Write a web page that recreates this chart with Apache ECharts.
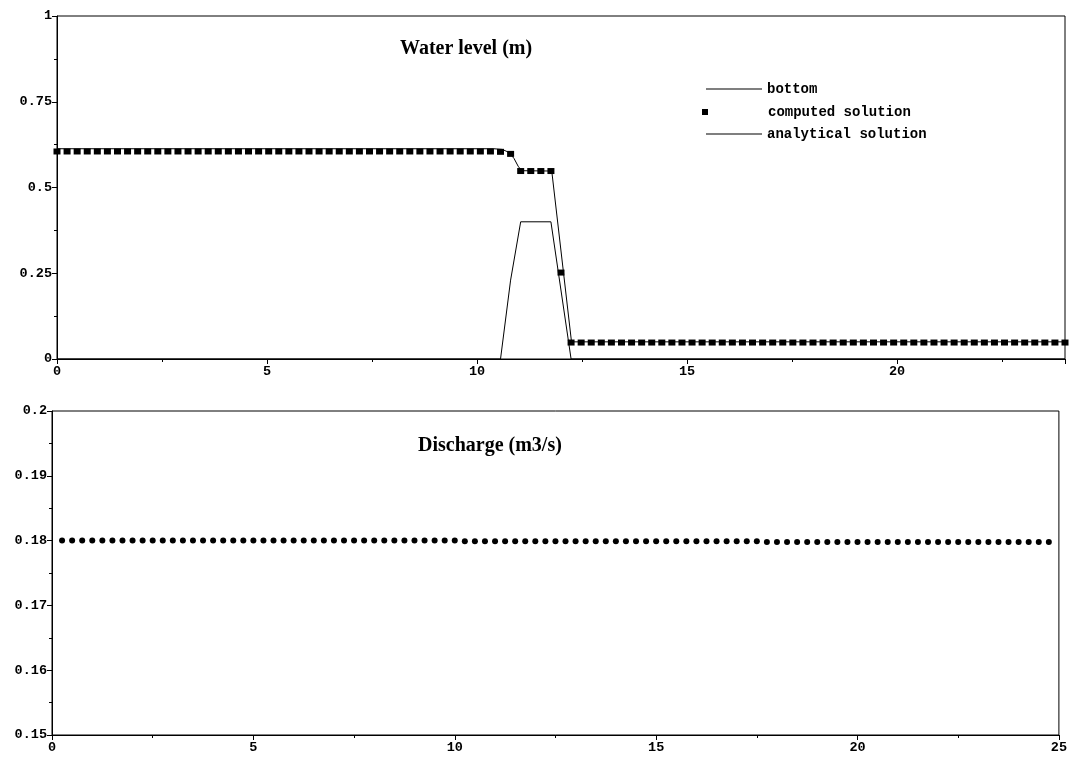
<!DOCTYPE html>
<html>
<head>
<meta charset="utf-8">
<script src="https://cdn.jsdelivr.net/npm/echarts@6/dist/echarts.min.js"></script>
<style>
  html, body { margin: 0; padding: 0; background: #fff; }
  #main { width: 1070px; height: 762px; }
</style>
</head>
<body>
<div id="main"></div>
<script>
// top panel: water level along the channel
var levelStep = 0.24;   // grid spacing of computed points (m)
var levelComputed = [
  0.605, 0.605, 0.605, 0.605, 0.605, 0.605, 0.605, 0.605, 0.605, 0.605,
  0.605, 0.605, 0.605, 0.605, 0.605, 0.605, 0.605, 0.605, 0.605, 0.605,
  0.605, 0.605, 0.605, 0.605, 0.605, 0.605, 0.605, 0.605, 0.605, 0.605,
  0.605, 0.605, 0.605, 0.605, 0.605, 0.605, 0.605, 0.605, 0.605, 0.605,
  0.605, 0.605, 0.605, 0.605, 0.604, 0.598, 0.548, 0.548, 0.548, 0.548,
  0.252, 0.048, 0.048, 0.048, 0.048, 0.048, 0.048, 0.048, 0.048, 0.048,
  0.048, 0.048, 0.048, 0.048, 0.048, 0.048, 0.048, 0.048, 0.048, 0.048,
  0.048, 0.048, 0.048, 0.048, 0.048, 0.048, 0.048, 0.048, 0.048, 0.048,
  0.048, 0.048, 0.048, 0.048, 0.048, 0.048, 0.048, 0.048, 0.048, 0.048,
  0.048, 0.048, 0.048, 0.048, 0.048, 0.048, 0.048, 0.048, 0.048, 0.048,
  0.048
];
var bottomX = [0, 10.56, 10.80, 11.04, 11.76, 12.24, 24];
var bottomY = [0, 0, 0.23, 0.4, 0.4, 0, 0];
var analyticX = [0, 10.4, 10.6, 10.75, 10.88, 10.98, 11.06, 11.78, 12.25, 24];
var analyticY = [0.613, 0.613, 0.611, 0.603, 0.585, 0.562, 0.549, 0.548, 0.05, 0.05];
var levelTicks = { min: 0, max: 1, step: 0.25 };

// bottom panel: discharge
var dischargeStart = 0.25;
var dischargeStep = 0.25;
var discharge = [
  0.1800, 0.1800, 0.1800, 0.1800, 0.1800, 0.1800, 0.1800, 0.1800, 0.1800, 0.1800,
  0.1800, 0.1800, 0.1800, 0.1800, 0.1800, 0.1800, 0.1800, 0.1800, 0.1800, 0.1800,
  0.1800, 0.1800, 0.1800, 0.1800, 0.1800, 0.1800, 0.1800, 0.1800, 0.1800, 0.1800,
  0.1800, 0.1800, 0.1800, 0.1800, 0.1800, 0.1800, 0.1800, 0.1800, 0.1800, 0.1800,
  0.1799, 0.1799, 0.1799, 0.1799, 0.1799, 0.1799, 0.1799, 0.1799, 0.1799, 0.1799,
  0.1799, 0.1799, 0.1799, 0.1799, 0.1799, 0.1799, 0.1799, 0.1799, 0.1799, 0.1799,
  0.1799, 0.1799, 0.1799, 0.1799, 0.1799, 0.1799, 0.1799, 0.1799, 0.1799, 0.1799,
  0.1798, 0.1798, 0.1798, 0.1798, 0.1798, 0.1798, 0.1798, 0.1798, 0.1798, 0.1798,
  0.1798, 0.1798, 0.1798, 0.1798, 0.1798, 0.1798, 0.1798, 0.1798, 0.1798, 0.1798,
  0.1798, 0.1798, 0.1798, 0.1798, 0.1798, 0.1798, 0.1798, 0.1798, 0.1798
];
var dischargeTicks = { min: 0.15, max: 0.2, step: 0.01 };

function pairs(xs, ys) {
  var out = [];
  for (var i = 0; i < xs.length; i++) out.push([xs[i], ys[i]]);
  return out;
}
function onGrid(start, step, ys) {
  var out = [];
  for (var i = 0; i < ys.length; i++) out.push([+(start + i * step).toFixed(4), ys[i]]);
  return out;
}

var monoFont = { fontFamily: 'Liberation Mono', fontWeight: 'bold', fontSize: 14, color: '#000' };
var tickFont = { fontFamily: 'Liberation Mono', fontWeight: 'bold', fontSize: 13.5, color: '#000' };
var titleFont = { fontFamily: 'Liberation Serif', fontWeight: 'bold', fontSize: 20, color: '#000' };
var axisCommon = {
  axisLine: { show: true, onZero: false, lineStyle: { color: '#000', width: 1 } },
  axisTick: { show: true, inside: false, length: 5, lineStyle: { color: '#000' } },
  minorTick: { show: true, splitNumber: 2, length: 3, lineStyle: { color: '#000' } },
  splitLine: { show: false },
  axisLabel: Object.assign({ margin: 5 }, tickFont)
};

var myChart = echarts.init(document.getElementById('main'));
myChart.setOption({
  animation: false,
  backgroundColor: '#fff',
  title: [
    { text: 'Water level (m)', left: 395, top: 34, textStyle: titleFont },
    { text: 'Discharge (m3/s)', left: 413, top: 431, textStyle: titleFont }
  ],
  legend: [
    { data: ['bottom', 'analytical solution'], orient: 'vertical', left: 701, top: 77,
      itemWidth: 56, itemHeight: 1, itemGap: 31, icon: 'rect', selectedMode: false,
      textStyle: monoFont },
    { data: ['computed solution'], orient: 'vertical', left: 697, top: 100,
      itemWidth: 6, itemHeight: 6, icon: 'rect', selectedMode: false,
      textStyle: Object.assign({ padding: [0, 0, 0, 55] }, monoFont) }
  ],
  grid: [
    { left: 57, top: 16, right: 5, height: 343, show: true, borderColor: '#000', borderWidth: 1 },
    { left: 52, top: 411, right: 7, height: 324, show: true, borderColor: '#000', borderWidth: 1 }
  ],
  xAxis: [
    Object.assign({}, axisCommon, { type: 'value', gridIndex: 0, min: 0, max: 24, interval: 5,
      axisLabel: Object.assign({ margin: 6, showMaxLabel: false }, tickFont) }),
    Object.assign({}, axisCommon, { type: 'value', gridIndex: 1, min: 0, max: 25, interval: 5,
      axisLabel: Object.assign({ margin: 6 }, tickFont) })
  ],
  yAxis: [
    Object.assign({}, axisCommon, { type: 'value', gridIndex: 0,
      min: levelTicks.min, max: levelTicks.max, interval: levelTicks.step }),
    Object.assign({}, axisCommon, { type: 'value', gridIndex: 1,
      min: dischargeTicks.min, max: dischargeTicks.max, interval: dischargeTicks.step })
  ],
  series: [
    { name: 'bottom', type: 'line', xAxisIndex: 0, yAxisIndex: 0, showSymbol: false, symbol: 'none',
      data: pairs(bottomX, bottomY), lineStyle: { color: '#000', width: 1 }, itemStyle: { color: '#000' } },
    { name: 'computed solution', type: 'scatter', xAxisIndex: 0, yAxisIndex: 0,
      symbol: 'rect', symbolSize: [7, 6], data: onGrid(0, levelStep, levelComputed),
      itemStyle: { color: '#000', opacity: 1 }, z: 3 },
    { name: 'analytical solution', type: 'line', xAxisIndex: 0, yAxisIndex: 0, showSymbol: false, symbol: 'none',
      data: pairs(analyticX, analyticY), lineStyle: { color: '#000', width: 1 }, itemStyle: { color: '#000' } },
    { name: 'discharge', type: 'scatter', xAxisIndex: 1, yAxisIndex: 1,
      symbol: 'circle', symbolSize: 6, data: onGrid(dischargeStart, dischargeStep, discharge),
      itemStyle: { color: '#000', opacity: 1 } }
  ]
});
</script>
</body>
</html>
